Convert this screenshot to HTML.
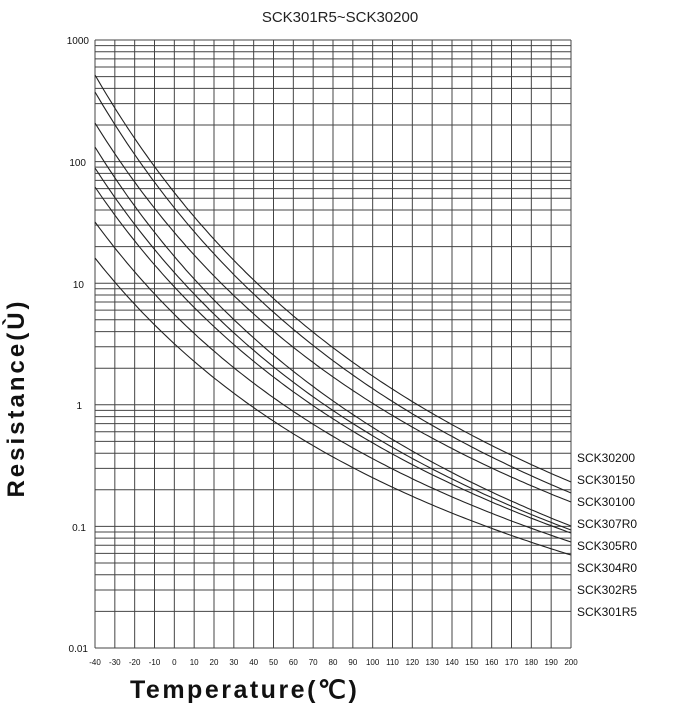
<!DOCTYPE html>
<html><head><meta charset="utf-8"><style>
body{margin:0;background:#fff;}
svg{display:block;font-family:"Liberation Sans",sans-serif;}
</style></head><body>
<svg width="680" height="723" viewBox="0 0 680 723" xmlns="http://www.w3.org/2000/svg">
<rect width="680" height="723" fill="#fff"/>
<text x="340" y="22" font-size="15" text-anchor="middle" fill="#222">SCK301R5~SCK30200</text>
<g id="grid" stroke="#444" stroke-width="1" fill="none"></g>
<g id="curves" stroke="#222" stroke-width="1.1" fill="none"></g>
<g font-size="10" fill="#111" text-anchor="end">
<text x="89" y="44">1000</text><text x="86" y="166">100</text><text x="84" y="288">10</text><text x="82" y="409">1</text><text x="86" y="531">0.1</text><text x="88" y="652">0.01</text>
</g>
<g id="xt" font-size="8" fill="#111" text-anchor="middle"></g>
<g font-size="12" fill="#111">
<text x="577" y="462">SCK30200</text><text x="577" y="484">SCK30150</text><text x="577" y="506">SCK30100</text><text x="577" y="528">SCK307R0</text><text x="577" y="550">SCK305R0</text><text x="577" y="572">SCK304R0</text><text x="577" y="594">SCK302R5</text><text x="577" y="616">SCK301R5</text>
</g>
<text transform="translate(24,398) rotate(-90)" font-size="24" font-weight="bold" text-anchor="middle" letter-spacing="3" fill="#111">Resistance(Ù)</text>
<text x="130" y="698" font-size="25" font-weight="bold" letter-spacing="2.5" fill="#111">Temperature(℃)</text>
<script>
(function(){
var ns="http://www.w3.org/2000/svg";
var L=95,R=571,T=40,B=648,D=(B-T)/5;
var g=document.getElementById("grid"),c=document.getElementById("curves"),xt=document.getElementById("xt");
function ln(x1,y1,x2,y2){var e=document.createElementNS(ns,"line");e.setAttribute("x1",x1);e.setAttribute("y1",y1);e.setAttribute("x2",x2);e.setAttribute("y2",y2);g.appendChild(e);}
for(var i=0;i<=24;i++){var x=L+i*(R-L)/24;ln(x,T,x,B);var t=document.createElementNS(ns,"text");t.setAttribute("x",x);t.setAttribute("y",665);t.textContent=(-40+i*10);xt.appendChild(t);}
for(var d=0;d<5;d++){for(var k=1;k<=9;k++){var y=B-d*D-Math.log10(k)*D;ln(L,y,R,y);}}
ln(L,T,R,T);
var s=[[75,482],[92,493],[123,502],[147,526],[168,530],[187,533],[222,542],[258,555]];
var i0=1/233,i1=1/473;
s.forEach(function(p){var pts=[];for(var j=0;j<=120;j++){var u=j/120;var Tc=-40+u*240;var f=(i0-1/(Tc+273))/(i0-i1);pts.push((L+u*(R-L)).toFixed(1)+","+(p[0]+(p[1]-p[0])*f).toFixed(1));}
var e=document.createElementNS(ns,"polyline");e.setAttribute("points",pts.join(" "));c.appendChild(e);});
})();
</script>
</svg>
</body></html>
